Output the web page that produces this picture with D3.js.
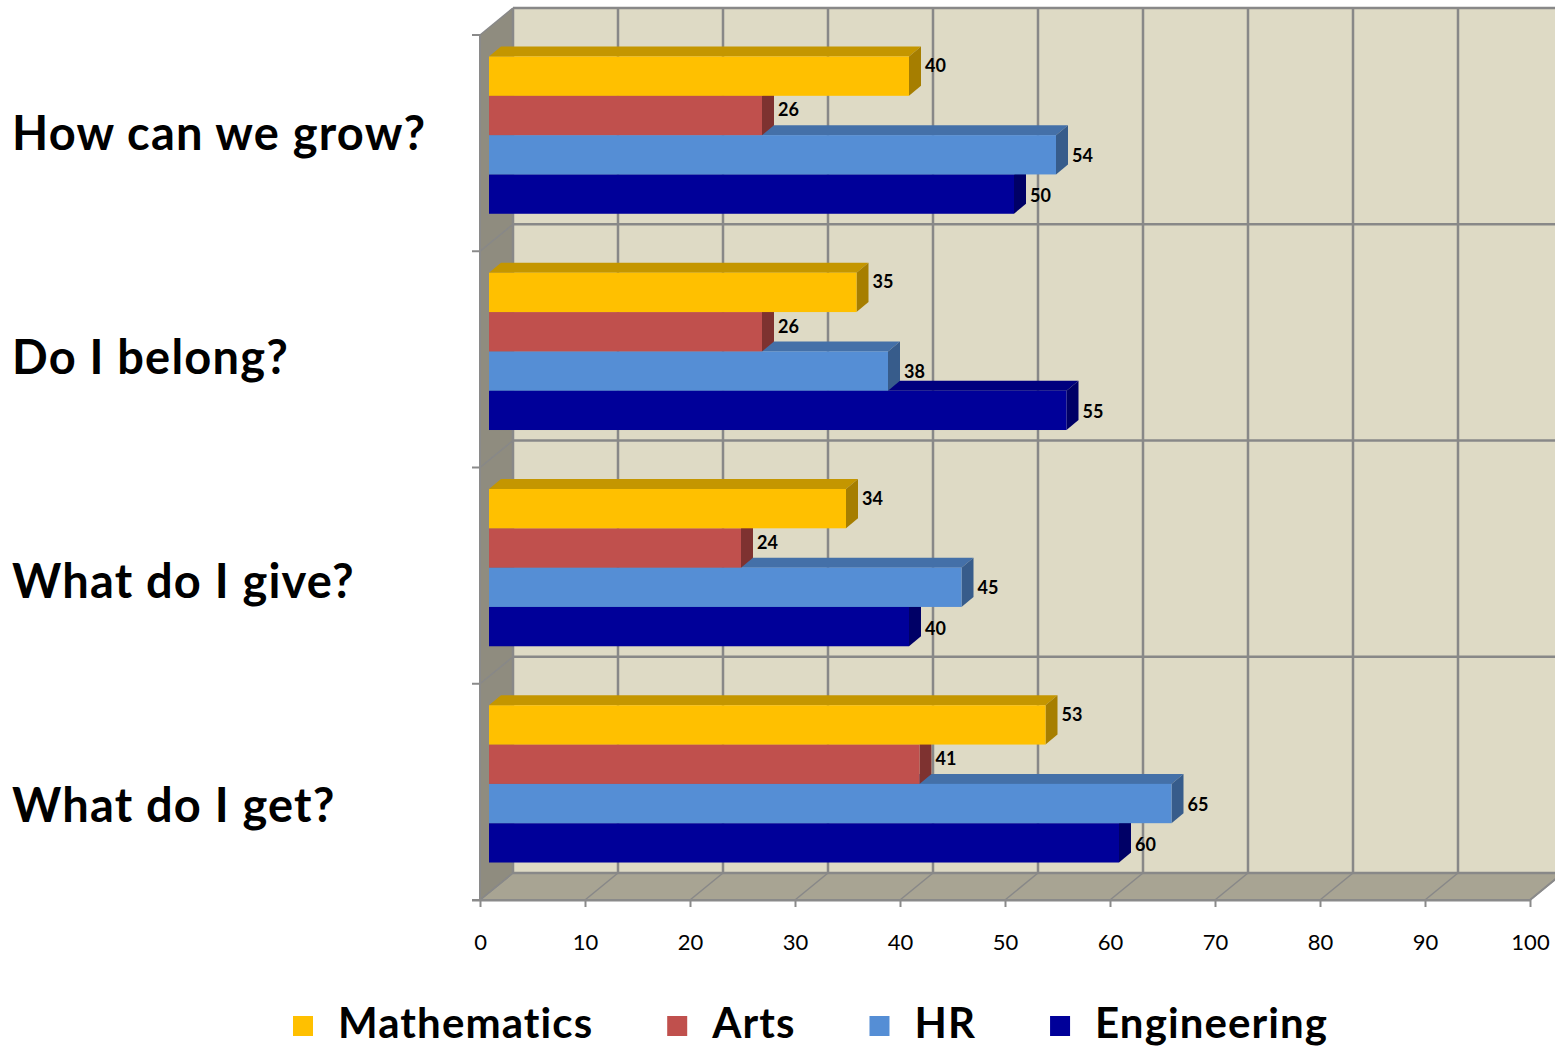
<!DOCTYPE html>
<html>
<head>
<meta charset="utf-8">
<script src="https://cdnjs.cloudflare.com/ajax/libs/d3/7.8.5/d3.min.js"></script>
<style>
  html, body { margin: 0; padding: 0; background: #ffffff; }
  svg { display: block; }
  text { font-family: Lato, "Open Sans", sans-serif; fill: #000; }
</style>
</head>
<body>
<svg id="chart" width="1555" height="1048"></svg>
<script>
// Survey questions, top to bottom
const categories = ["How can we grow?", "Do I belong?", "What do I give?", "What do I get?"];
// Departments (series), top bar to bottom bar within each question
const seriesNames = ["Mathematics", "Arts", "HR", "Engineering"];
// Scores per department, in the order of the questions above
const mathematics = [40, 35, 34, 53];
const arts        = [26, 26, 24, 41];
const hr          = [54, 38, 45, 65];
const engineering = [50, 55, 40, 60];
const xTicks = [0, 10, 20, 30, 40, 50, 60, 70, 80, 90, 100];

const seriesValues = [mathematics, arts, hr, engineering];

// Face colours for each series: front, top, side
const palette = {
  "Mathematics": { front: "#FFC000", top: "#C49600", side: "#A67E00" },
  "Arts":        { front: "#C0504D", top: "#9B3F3D", side: "#7E3230" },
  "HR":          { front: "#558ED5", top: "#4470A8", side: "#375C8B" },
  "Engineering": { front: "#000099", top: "#00007E", side: "#000066" }
};

const svg = d3.select("#chart");
const W = 1555;

// Projection of the chart box: front plane plus an oblique depth offset
const DX = 33, DY = -27;          // full depth of the box
const BX0 = 9, BY0 = -8;          // front face of the bars inside the box
const BDX = 12, BDY = -10;        // thickness of the bars in depth

const x = d3.scaleLinear().domain([0, 100]).range([480, 1530]);
const y = d3.scaleBand().domain(categories).range([35, 900]);
const ys = d3.scaleBand().domain(seriesNames).range([0, y.bandwidth()])
  .paddingInner(0).paddingOuter(0.75);

const x0 = x(0), x1 = x(100);
const yTop = y.range()[0], yBot = y.range()[1];

const wallStroke = "#8a8a8a";
const gridStroke = "#888888";

// ---- Walls ----
const g = svg.append("g");

// back wall
g.append("rect")
  .attr("x", x0 + DX).attr("y", yTop + DY)
  .attr("width", x1 - x0 + 10).attr("height", yBot - yTop)
  .attr("fill", "#DEDAC5");

// left wall
g.append("polygon")
  .attr("points", [[x0, yTop], [x0 + DX, yTop + DY], [x0 + DX, yBot + DY], [x0, yBot]].join(" "))
  .attr("fill", "#8F8C7F");

// floor
g.append("polygon")
  .attr("points", [[x0, yBot], [x0 + DX, yBot + DY], [x1 + DX, yBot + DY], [x1, yBot]].join(" "))
  .attr("fill", "#A8A493");

// vertical grid lines on the back wall and their continuation across the floor
xTicks.forEach(v => {
  g.append("line")
    .attr("x1", x(v) + DX).attr("x2", x(v) + DX)
    .attr("y1", yTop + DY).attr("y2", yBot + DY)
    .attr("stroke", gridStroke).attr("stroke-width", 2.5);
  g.append("line")
    .attr("x1", x(v)).attr("y1", yBot)
    .attr("x2", x(v) + DX).attr("y2", yBot + DY)
    .attr("stroke", gridStroke).attr("stroke-width", 1.5);
});

// horizontal grid lines at category boundaries: across the left wall, then the back wall
const boundaries = categories.map(c => y(c)).concat([yBot]);
boundaries.forEach(b => {
  g.append("line")
    .attr("x1", x0).attr("y1", b)
    .attr("x2", x0 + DX).attr("y2", b + DY)
    .attr("stroke", gridStroke).attr("stroke-width", 1.5);
  g.append("line")
    .attr("x1", x0 + DX).attr("y1", b + DY)
    .attr("x2", W + 20).attr("y2", b + DY)
    .attr("stroke", gridStroke).attr("stroke-width", 2.5);
});

// box edges
g.append("line").attr("x1", x0).attr("y1", yBot).attr("x2", x1).attr("y2", yBot)
  .attr("stroke", wallStroke).attr("stroke-width", 2);
g.append("line").attr("x1", x0).attr("y1", yTop).attr("x2", x0).attr("y2", yBot)
  .attr("stroke", wallStroke).attr("stroke-width", 2);
g.append("line").attr("x1", x1).attr("y1", yBot).attr("x2", x1 + DX).attr("y2", yBot + DY)
  .attr("stroke", wallStroke).attr("stroke-width", 2);

// ---- Axes ----
const xAxis = d3.axisBottom(x).tickValues(xTicks).tickSize(7).tickPadding(27);
const xa = svg.append("g").attr("transform", `translate(0,${yBot})`).call(xAxis);
xa.select(".domain").attr("stroke", wallStroke).attr("stroke-width", 2)
  .attr("d", `M${x0 - 8},0.5H${x1}`);
xa.selectAll(".tick line").attr("stroke", wallStroke).attr("stroke-width", 2);
xa.selectAll(".tick text")
  .style("font-family", "Lato, sans-serif").style("font-size", "22px").attr("fill", "#000");

// category tick marks on the left edge
boundaries.forEach(b => {
  svg.append("line").attr("x1", x0 - 8).attr("x2", x0).attr("y1", b).attr("y2", b)
    .attr("stroke", wallStroke).attr("stroke-width", 2);
});

// category labels
const yLabel = d3.scaleBand().domain(categories).range([20, 916]);
svg.append("g").selectAll("text")
  .data(categories).join("text")
  .attr("x", 12)
  .attr("y", d => yLabel(d) + yLabel.bandwidth() / 2)
  .attr("dominant-baseline", "central")
  .style("font-weight", 700).style("font-size", "47px").style("letter-spacing", "1.2px")
  .text(d => d);

// ---- Bars ----
const bars = [];
categories.forEach((c, ci) => {
  seriesNames.forEach((s, si) => {
    bars.push({ category: c, series: s, value: seriesValues[si][ci], si });
  });
});

// draw from the bottom series upward so each bar sits over the top face of the one beneath
const drawOrder = bars.slice().sort((a, b) => b.si - a.si);
const barG = svg.append("g");
drawOrder.forEach(d => {
  const col = palette[d.series];
  const left = x(0) + BX0;
  const right = x(d.value) + BX0;
  const top = y(d.category) + ys(d.series) + BY0;
  const h = ys.bandwidth();
  const bg = barG.append("g");
  // top face
  bg.append("polygon")
    .attr("points", [[left, top], [left + BDX, top + BDY], [right + BDX, top + BDY], [right, top]].join(" "))
    .attr("fill", col.top);
  // side face
  bg.append("polygon")
    .attr("points", [[right, top], [right + BDX, top + BDY], [right + BDX, top + h + BDY], [right, top + h]].join(" "))
    .attr("fill", col.side);
  // front face
  bg.append("rect")
    .attr("x", left).attr("y", top)
    .attr("width", right - left).attr("height", h)
    .attr("fill", col.front);
});

// value labels
const labelShift = { "Mathematics": -11, "Arts": -6, "HR": 0, "Engineering": 1 };
svg.append("g").selectAll("text")
  .data(bars).join("text")
  .attr("x", d => x(d.value) + BX0 + BDX + 4)
  .attr("y", d => y(d.category) + ys(d.series) + BY0 + ys.bandwidth() / 2 + labelShift[d.series])
  .attr("dominant-baseline", "central")
  .style("font-weight", 700).style("font-size", "18px")
  .text(d => d.value);

// ---- Legend ----
const legend = svg.append("g").attr("transform", "translate(293,1038)");
let cursor = 0;
seriesNames.forEach(s => {
  const item = legend.append("g").attr("transform", `translate(${cursor},0)`);
  item.append("rect").attr("x", 0).attr("y", -22).attr("width", 20).attr("height", 20)
    .attr("fill", palette[s].front);
  const t = item.append("text").attr("x", 45).attr("y", 0)
    .style("font-weight", 700).style("font-size", "42px").style("letter-spacing", "1.1px")
    .text(s);
  cursor += 45 + t.node().getComputedTextLength() + 74;
});
</script>
</body>
</html>
